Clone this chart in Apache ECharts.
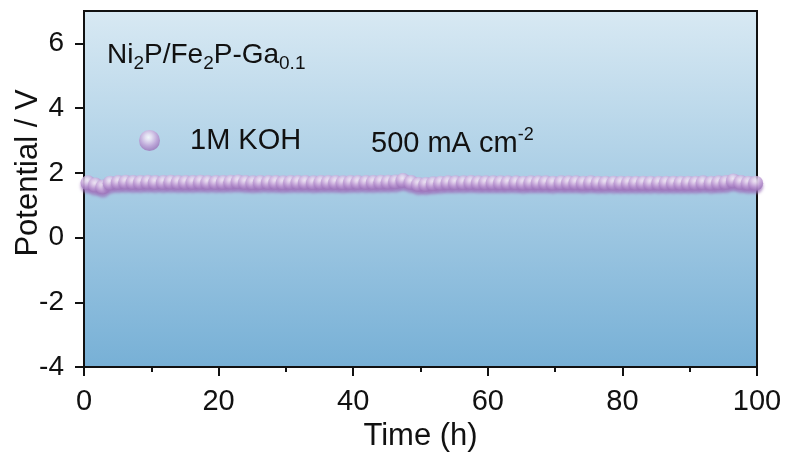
<!DOCTYPE html>
<html>
<head>
<meta charset="utf-8">
<script src="https://cdn.jsdelivr.net/npm/echarts@6/dist/echarts.min.js"></script>
<style>html,body{margin:0;padding:0;background:#fff}#c{width:791px;height:454px}</style>
</head>
<body>
<div id="c"></div>
<script>
var timeH = [0.6, 1.7, 2.8, 3.9, 5.1, 6.2, 7.3, 8.4, 9.5, 10.6, 11.8, 12.9, 14.0, 15.1, 16.2, 17.3, 18.4, 19.6, 20.7, 21.8, 22.9, 24.0, 25.1, 26.2, 27.4, 28.5, 29.6, 30.7, 31.8, 32.9, 34.1, 35.2, 36.3, 37.4, 38.5, 39.6, 40.7, 41.9, 43.0, 44.1, 45.2, 46.3, 47.4, 48.6, 49.7, 50.8, 51.9, 53.0, 54.1, 55.2, 56.4, 57.5, 58.6, 59.7, 60.8, 61.9, 63.0, 64.2, 65.3, 66.4, 67.5, 68.6, 69.7, 70.9, 72.0, 73.1, 74.2, 75.3, 76.4, 77.5, 78.7, 79.8, 80.9, 82.0, 83.1, 84.2, 85.4, 86.5, 87.6, 88.7, 89.8, 90.9, 92.0, 93.2, 94.3, 95.4, 96.5, 97.6, 98.7, 99.8];
var potentialV = [1.69, 1.62, 1.56, 1.68, 1.70, 1.71, 1.70, 1.70, 1.71, 1.70, 1.70, 1.71, 1.70, 1.70, 1.70, 1.71, 1.70, 1.70, 1.70, 1.71, 1.72, 1.70, 1.69, 1.70, 1.70, 1.70, 1.69, 1.70, 1.70, 1.70, 1.69, 1.70, 1.70, 1.70, 1.69, 1.70, 1.70, 1.70, 1.70, 1.71, 1.71, 1.72, 1.76, 1.70, 1.64, 1.64, 1.66, 1.68, 1.69, 1.69, 1.69, 1.70, 1.69, 1.69, 1.69, 1.69, 1.69, 1.69, 1.68, 1.69, 1.69, 1.69, 1.68, 1.69, 1.69, 1.69, 1.68, 1.69, 1.68, 1.68, 1.68, 1.68, 1.68, 1.68, 1.68, 1.68, 1.68, 1.68, 1.68, 1.68, 1.68, 1.68, 1.69, 1.68, 1.69, 1.70, 1.75, 1.70, 1.68, 1.68];
var xTicks = [0, 20, 40, 60, 80, 100];
var yTicks = [-4, -2, 0, 2, 4, 6];
var seriesName = '1M KOH';

var FONT = "'Liberation Sans', Arial, sans-serif";
var chart = echarts.init(document.getElementById('c'), null, {renderer: 'canvas'});

var pts = timeH.map(function (t, i) { return [t, potentialV[i]]; });

var sphere = new echarts.graphic.RadialGradient(0.45, 0.35, 0.6, [
  {offset: 0, color: '#ffffff'},
  {offset: 0.25, color: '#eee2f4'},
  {offset: 0.7, color: '#bf9cd5'},
  {offset: 1, color: '#a079bc'}
]);

chart.setOption({
  animation: false,
  textStyle: {fontFamily: FONT},
  grid: {
    left: 84, right: 34, top: 11, bottom: 87,
    outerBoundsMode: 'none',
    containLabel: false,
    show: true,
    borderColor: '#111', borderWidth: 2,
    backgroundColor: new echarts.graphic.LinearGradient(0, 0, 0, 1, [
      {offset: 0, color: '#d8e9f3'},
      {offset: 1, color: '#77b0d6'}
    ])
  },
  legend: {
    data: [{name: seriesName, icon: 'circle'}],
    left: 134, top: 121,
    itemWidth: 21, itemHeight: 21,
    textStyle: {fontSize: 29, color: '#111', fontFamily: FONT, padding: [0, 0, 0, 25]}
  },
  xAxis: {
    type: 'value', min: 0, max: 100, interval: 20,
    name: 'Time (h)', nameLocation: 'middle', nameGap: 43,
    nameTextStyle: {fontSize: 31, color: '#111', fontFamily: FONT},
    axisLine: {onZero: false, lineStyle: {color: '#111', width: 2}},
    axisTick: {show: true, inside: false, length: 9, lineStyle: {color: '#111', width: 2}},
    minorTick: {show: true, splitNumber: 2, length: 5, lineStyle: {color: '#111', width: 2}},
    axisLabel: {fontSize: 29, color: '#111', margin: 20, fontFamily: FONT},
    splitLine: {show: false}
  },
  yAxis: {
    type: 'value', min: -4, max: 7, interval: 2,
    name: 'Potential / V', nameLocation: 'middle', nameGap: 40, nameRotate: 90,
    nameMoveOverlap: false,
    nameTextStyle: {fontSize: 31, color: '#111', fontFamily: FONT, padding: [0, 0, 0, 32]},
    axisLine: {onZero: false, lineStyle: {color: '#111', width: 2}},
    axisTick: {show: true, inside: false, length: 9, customValues: yTicks, lineStyle: {color: '#111', width: 2}},
    axisLabel: {fontSize: 28, color: '#111', margin: 20, customValues: yTicks, fontFamily: FONT},
    splitLine: {show: false}
  },
  graphic: [
    {
      type: 'text', left: 107, top: 41, z: 10,
      style: {
        text: '{n|Ni}{s|2}{n|P/Fe}{s|2}{n|P-Ga}{s|0.1}',
        rich: {
          n: {fontSize: 28, fontFamily: FONT, fill: '#111', lineHeight: 30, verticalAlign: 'top'},
          s: {fontSize: 19, fontFamily: FONT, fill: '#111', lineHeight: 22, verticalAlign: 'top', padding: [13, 0, 0, 0]}
        }
      }
    },
    {
      type: 'text', left: 371, top: 126, z: 10,
      style: {
        text: '{n|500 mA cm}{p|-2}',
        rich: {
          n: {fontSize: 29, fontFamily: FONT, fill: '#111', lineHeight: 32, verticalAlign: 'bottom'},
          p: {fontSize: 18, fontFamily: FONT, fill: '#111', lineHeight: 14, verticalAlign: 'top'}
        }
      }
    }
  ],
  series: [{
    name: seriesName,
    type: 'scatter',
    data: pts,
    symbol: 'circle',
    symbolSize: 15,
    itemStyle: {
      color: sphere,
      shadowColor: 'rgba(158,115,188,0.95)',
      shadowBlur: 3,
      shadowOffsetY: 3
    },
    z: 5
  }]
});
</script>
</body>
</html>
